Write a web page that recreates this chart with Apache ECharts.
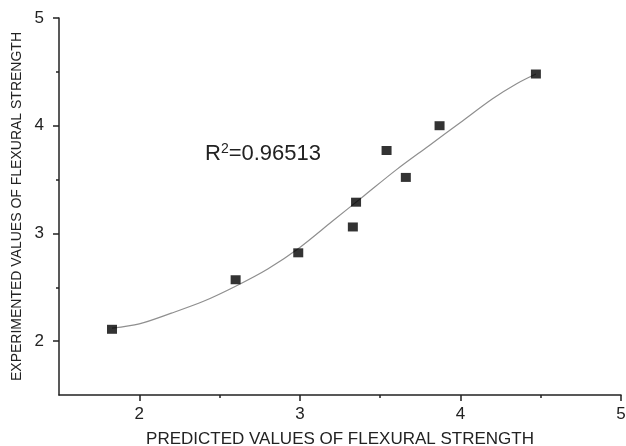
<!DOCTYPE html>
<html>
<head>
<meta charset="utf-8">
<script src="https://cdn.jsdelivr.net/npm/echarts@6/dist/echarts.min.js"></script>
<style>
  html, body { margin: 0; padding: 0; background: #fff; }
  #chart { width: 626px; height: 446px; }
</style>
</head>
<body>
<div id="chart"></div>
<script>
// measured points (predicted, experimented)
const predicted = [1.83, 2.60, 2.99, 3.33, 3.35, 3.54, 3.66, 3.87, 4.47];
const experimented = [2.11, 2.57, 2.82, 3.06, 3.29, 3.77, 3.52, 4.00, 4.48];

// fitted curve
const fitX = [1.83, 2.0, 2.2, 2.4, 2.6, 2.8, 3.0, 3.2, 3.4, 3.6, 3.8, 4.0, 4.2, 4.35, 4.47];
const fitY = [2.12, 2.16, 2.26, 2.37, 2.51, 2.67, 2.87, 3.11, 3.35, 3.59, 3.81, 4.03, 4.25, 4.39, 4.48];

const majorTicks = [2, 3, 4, 5];
const minorTicks = [2.5, 3.5, 4.5];

const chart = echarts.init(document.getElementById('chart'));

const axisColor = '#222';
const font = 'Liberation Sans, Arial, sans-serif';

function mainAxis(name, isY) {
    return {
        type: 'value',
        min: 1.5,
        max: 5,
        interval: 0.5,
        name: name,
        nameLocation: 'middle',
        nameGap: isY ? 35 : 36,
        nameMoveOverlap: false,
        nameTextStyle: { fontFamily: font, fontSize: isY ? 14 : 17, color: '#222' },
        axisLine: { show: true, onZero: false, lineStyle: { color: axisColor, width: 1.5 } },
        axisTick: { show: true, customValues: majorTicks, length: 6, lineStyle: { color: axisColor, width: 1.5 } },
        axisLabel: { customValues: majorTicks, fontFamily: font, fontSize: 17, color: '#222', margin: isY ? 15 : 11 },
        splitLine: { show: false }
    };
}

function minorAxis() {
    return {
        type: 'value',
        min: 1.5,
        max: 5,
        interval: 0.5,
        axisLine: { show: false },
        axisTick: { show: true, customValues: minorTicks, length: 3, lineStyle: { color: axisColor, width: 1.5 } },
        axisLabel: { show: false },
        splitLine: { show: false }
    };
}

const xMain = mainAxis('PREDICTED VALUES OF FLEXURAL STRENGTH', false);
const yMain = mainAxis('EXPERIMENTED VALUES OF FLEXURAL STRENGTH', true);
const xMinor = minorAxis(); xMinor.position = 'bottom';
const yMinor = minorAxis(); yMinor.position = 'left';

chart.setOption({
    animation: false,
    grid: { left: 59, right: 5, top: 18, bottom: 51, outerBoundsMode: 'none', containLabel: false },
    xAxis: [xMain, xMinor],
    yAxis: [yMain, yMinor],
    series: [
        {
            type: 'line',
            data: fitX.map((x, i) => [x, fitY[i]]),
            smooth: 0.3,
            showSymbol: false,
            lineStyle: { color: '#8f8f8f', width: 1.2 },
            z: 1
        },
        {
            type: 'scatter',
            data: predicted.map((x, i) => [x, experimented[i]]),
            symbol: 'rect',
            symbolSize: [10, 9],
            itemStyle: { color: '#000' },
            z: 2
        }
    ],
    graphic: [{
        type: 'text',
        left: 205,
        top: 142,
        style: {
            text: '{r|R}{s|2}{r|=0.96513}',
            rich: {
                r: { fontFamily: font, fontSize: 22, fill: '#222', verticalAlign: 'bottom' },
                s: { fontFamily: font, fontSize: 14, fill: '#222', verticalAlign: 'top', padding: [0, 0, 9, 0] }
            }
        }
    }]
});
</script>
</body>
</html>
